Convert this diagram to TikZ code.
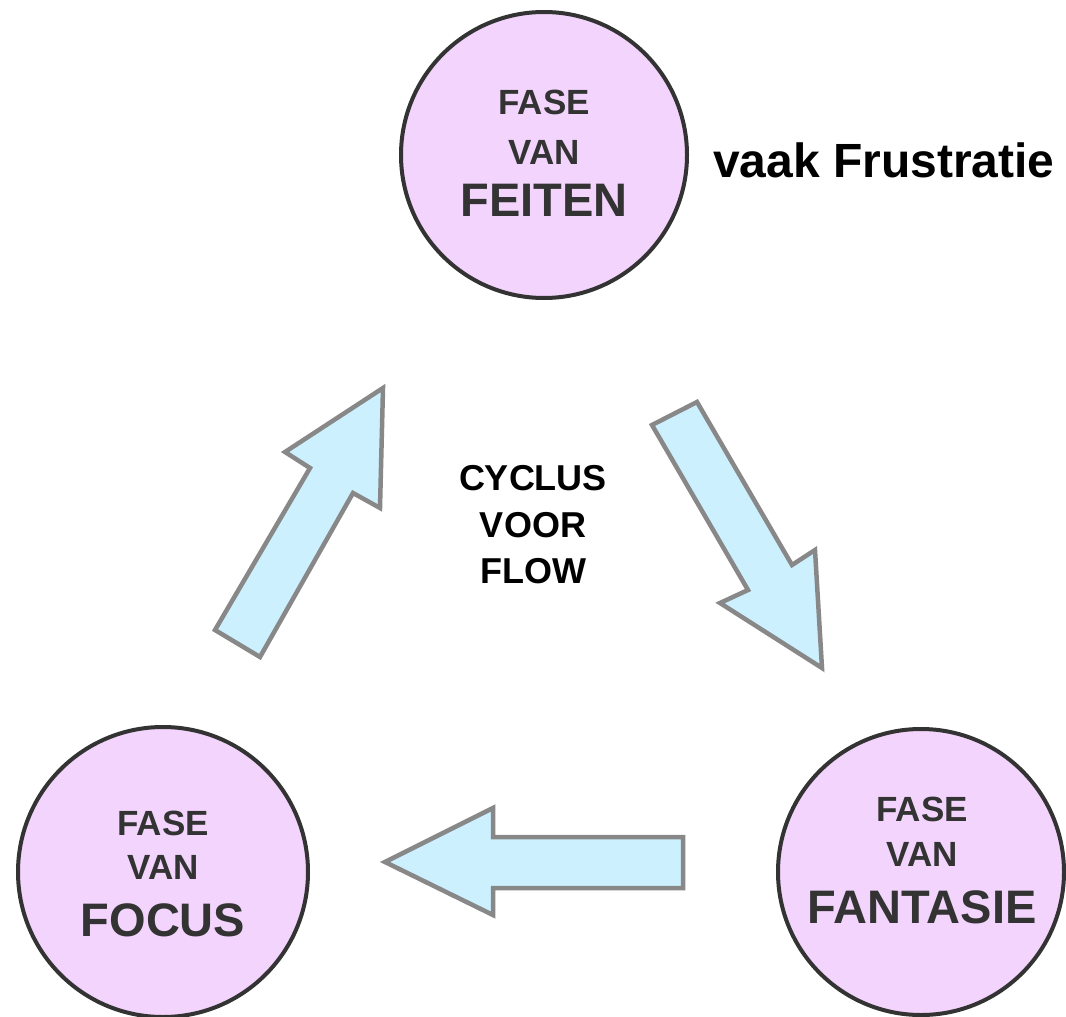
\documentclass[tikz,border=0pt]{standalone}
\usepackage{fontspec}
\setmainfont{Liberation Sans}
\definecolor{circfill}{RGB}{243,212,252}
\definecolor{circline}{RGB}{51,51,51}
\definecolor{arrfill}{RGB}{204,240,254}
\definecolor{arrline}{RGB}{136,136,136}
\definecolor{txtgray}{RGB}{51,51,51}
\tikzset{
  phase/.style={circle, draw=circline, fill=circfill, line width=4pt, inner sep=0pt},
  small/.style={text=txtgray, inner sep=0pt, font=\bfseries\fontsize{35}{40}\selectfont},
  big/.style={text=txtgray, inner sep=0pt, font=\bfseries\fontsize{47}{52}\selectfont},
  blockarrow/.style={draw=arrline, fill=arrfill, line width=4.5pt, line join=miter},
  center/.style={text=black, inner sep=0pt, font=\bfseries\fontsize{36}{40}\selectfont},
}
\begin{document}
\begin{tikzpicture}[x=1pt,y=-1pt]
\useasboundingbox (0,0) rectangle (1066,1017);
% circles
\node[phase, minimum size=286pt] (feiten) at (544,155) {};
\node[phase, minimum size=290pt] (focus) at (163,872) {};
\node[phase, minimum size=286pt] (fantasie) at (921,872) {};
% circle texts
\node[small] (f1) at (544,102) {FASE};
\node[small] (f2) at (544,152) {VAN};
\node[big]   (f3) at (544,200) {FEITEN};
\node[small] (c1) at (163,823) {FASE};
\node[small] (c2) at (163,867) {VAN};
\node[big]   (c3) at (163,920) {FOCUS};
\node[small] (a1) at (922,809) {FASE};
\node[small] (a2) at (922,854) {VAN};
\node[big]   (a3) at (922,907) {FANTASIE};
% side note
\node[text=black, inner sep=0pt, font=\bfseries\fontsize{48}{52}\selectfont, anchor=base west] (note) at (713,177) {vaak Frustratie};
% centre text
\node[center] (t1) at (533,478) {CYCLUS};
\node[center] (t2) at (533,525) {VOOR};
\node[center] (t3) at (533,571) {FLOW};
% block arrows
\draw[blockarrow] (215,630) -- (310,468) -- (285,452) -- (383,388) -- (380,508) -- (353,493) -- (260,657) -- cycle;
\draw[blockarrow] (652,425) -- (697,402) -- (792,565) -- (815,550) -- (822,668) -- (720,603) -- (748,590) -- cycle;
\draw[blockarrow] (385,862) -- (493,808) -- (493,837) -- (683,837) -- (683,888) -- (493,888) -- (493,915) -- cycle;
\end{tikzpicture}
\end{document}
